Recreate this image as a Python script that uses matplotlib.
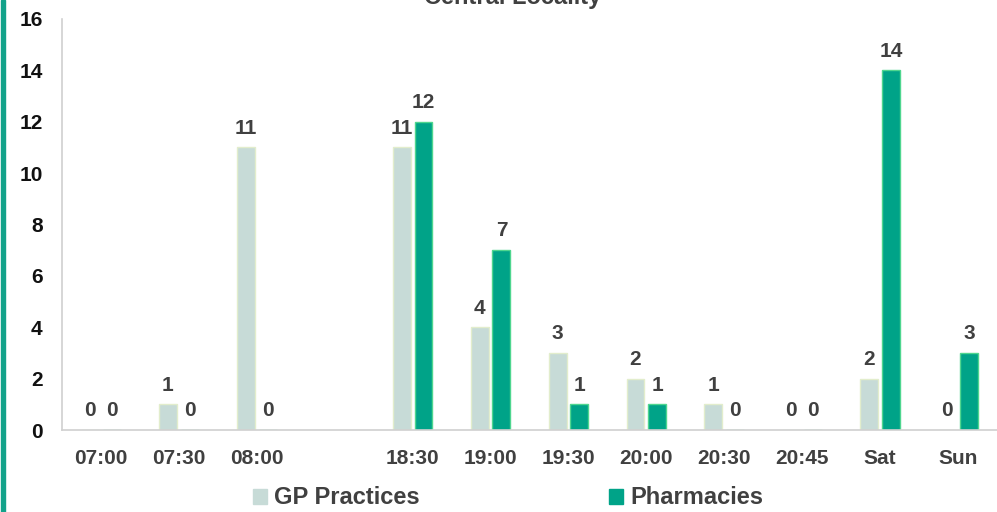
import numpy as np
import matplotlib
matplotlib.use("Agg")
import matplotlib.pyplot as plt
from matplotlib.patches import Patch, Rectangle

plt.rcParams['font.family'] = ['Liberation Sans', 'DejaVu Sans']

# opening times, blank slot splits morning and evening
slots = ['07:00', '07:30', '08:00', '', '18:30', '19:00', '19:30',
         '20:00', '20:30', '20:45', 'Sat', 'Sun']
gp = [0, 1, 11, np.nan, 11, 4, 3, 2, 1, 0, 2, 0]
pharm = [0, 0, 0, np.nan, 12, 7, 1, 1, 0, 0, 14, 3]

gp_col = '#c7dbd7'
gp_edge = '#e2edcc'
ph_col = '#00a388'
ph_edge = '#4fd68f'
txt = '#404040'

fig = plt.figure(figsize=(9.97, 5.12), dpi=100)
ax = fig.add_axes([62 / 997, 1 - 430 / 512, 935 / 997, 411 / 512])

x = np.arange(len(slots))
w = 0.23
off = 0.14
b1 = ax.bar(x - off, gp, w, color=gp_col, edgecolor=gp_edge, linewidth=1)
b2 = ax.bar(x + off, pharm, w, color=ph_col, edgecolor=ph_edge, linewidth=1)

for xs, vals in ((x - off, gp), (x + off, pharm)):
    for xi, v in zip(xs, vals):
        if np.isnan(v):
            continue
        ax.annotate(f'{int(v)}', (xi, v), xytext=(0, 7), textcoords='offset points',
                    ha='center', va='bottom', fontsize=15, fontweight='bold', color=txt)

ax.set_xlim(-0.5, len(slots) - 0.5)
ax.set_ylim(0, 16)
ax.set_yticks(range(0, 17, 2))
ax.set_xticks(x)
ax.set_xticklabels(slots)
ax.tick_params(axis='x', length=0, pad=14, labelsize=15, labelcolor=txt)
ax.tick_params(axis='y', length=0, pad=14, labelsize=15, labelcolor='#111111')
for lab in ax.get_xticklabels() + ax.get_yticklabels():
    lab.set_fontweight('bold')

for s in ('top', 'right'):
    ax.spines[s].set_visible(False)
for s in ('left', 'bottom'):
    ax.spines[s].set_color('#d0d0d0')
    ax.spines[s].set_linewidth(1.2)

fig.text(513 / 997, 1 - 4 / 512, 'Central Locality', ha='center', va='baseline',
         fontsize=17, fontweight='bold', color=txt)

handles = [Patch(facecolor=gp_col, edgecolor=gp_col), Patch(facecolor=ph_col, edgecolor=ph_col)]
fig.legend(handles, ['GP Practices', 'Pharmacies'], loc='center', ncol=2,
           bbox_to_anchor=(508 / 997, 1 - 498 / 512), frameon=False,
           prop={'size': 17, 'weight': 'bold'}, labelcolor=txt,
           handlelength=0.6, handleheight=0.6, handletextpad=0.3, columnspacing=8.0)

# teal strip down the left edge
fig.patches.append(Rectangle((1 / 997, 0), 4 / 997, 1, transform=fig.transFigure,
                             color='#12a28a', zorder=5))

fig.savefig('out.png', dpi=100)
